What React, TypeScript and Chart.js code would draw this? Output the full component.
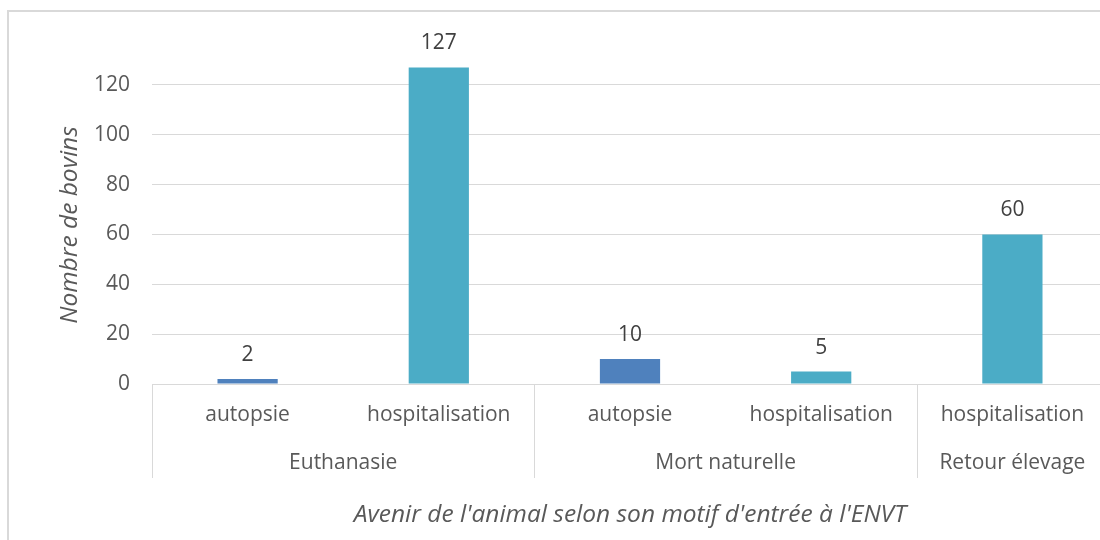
import { useEffect, useRef } from 'react';
import { Chart, registerables } from 'chart.js';

Chart.register(...registerables);

// ---- Data ----
const groups = ['Euthanasie', 'Euthanasie', 'Mort naturelle', 'Mort naturelle', 'Retour élevage'];
const subCategories = ['autopsie', 'hospitalisation', 'autopsie', 'hospitalisation', 'hospitalisation'];
const values = [2, 127, 10, 5, 60];
const yMax = 140;
const yStep = 20;
const yTitle = 'Nombre de bovins';
const xTitle = "Avenir de l'animal selon son motif d'entrée à l'ENVT";

// ---- Styles ----
const FONT = '"Open Sans"';
const FS = 21;
const TFS = 24.5;
const TEXT = '#595959';
const LABEL = '#404040';
const GRID = '#d9d9d9';
const colorFor = (sub: string) => (sub === 'autopsie' ? '#4f81bd' : '#4bacc6');

const decor = {
  id: 'excelDecor',
  beforeDraw(chart: any) {
    const { ctx } = chart;
    ctx.save();
    ctx.strokeStyle = GRID;
    ctx.lineWidth = 2;
    ctx.strokeRect(8, 11, 2000, 2000);
    ctx.restore();
  },
  afterDatasetsDraw(chart: any) {
    const { ctx, chartArea } = chart;
    const xs = chart.scales.x;
    const meta = chart.getDatasetMeta(0);
    ctx.save();
    // data labels
    ctx.font = `${FS}px ${FONT}`;
    ctx.fillStyle = LABEL;
    ctx.textAlign = 'center';
    ctx.textBaseline = 'middle';
    meta.data.forEach((bar: any, i: number) => {
      ctx.fillText(String(values[i]), bar.x, bar.y - 24);
    });
    // sub-category labels
    ctx.fillStyle = TEXT;
    subCategories.forEach((s, i) => {
      ctx.fillText(s, xs.getPixelForValue(i), chartArea.bottom + 31);
    });
    // separators and group labels
    const bottom = chartArea.bottom;
    const sepBottom = bottom + 94;
    ctx.strokeStyle = GRID;
    ctx.lineWidth = 1;
    const seps: number[] = [chartArea.left];
    let start = 0;
    for (let i = 1; i <= groups.length; i++) {
      if (i === groups.length || groups[i] !== groups[start]) {
        const cx = (xs.getPixelForValue(start) + xs.getPixelForValue(i - 1)) / 2;
        ctx.fillText(groups[start], cx, bottom + 79);
        if (i < groups.length) {
          seps.push((xs.getPixelForValue(i - 1) + xs.getPixelForValue(i)) / 2);
        }
        start = i;
      }
    }
    seps.push(chartArea.right);
    seps.forEach((x) => {
      const px = Math.round(x) + 0.5;
      ctx.beginPath();
      ctx.moveTo(px, bottom);
      ctx.lineTo(px, sepBottom);
      ctx.stroke();
    });
    // axis titles
    ctx.font = `italic ${TFS}px ${FONT}`;
    ctx.fillText(xTitle, (chartArea.left + chartArea.right) / 2, bottom + 131);
    ctx.translate(70, 225);
    ctx.rotate(-Math.PI / 2);
    ctx.fillText(yTitle, 0, 0);
    ctx.restore();
  },
};

export default function App() {
  const ref = useRef<HTMLCanvasElement>(null);
  useEffect(() => {
    const chart = new Chart(ref.current as HTMLCanvasElement, {
      type: 'bar',
      data: {
        labels: subCategories.map((s, i) => `${groups[i]} ${s}`),
        datasets: [
          {
            data: values,
            backgroundColor: subCategories.map(colorFor),
            barPercentage: 0.315,
            categoryPercentage: 1,
          },
        ],
      },
      options: {
        responsive: false,
        animation: false,
        layout: { padding: { left: 0, right: 12, top: 35, bottom: 156 } },
        plugins: { legend: { display: false }, tooltip: { enabled: false } },
        scales: {
          x: { display: false },
          y: {
            min: 0,
            max: yMax,
            afterFit: (s: any) => {
              s.width = 152;
            },
            border: { display: false },
            grid: {
              drawTicks: false,
              color: (c: any) => (c.tick && c.tick.value === yMax ? 'rgba(0,0,0,0)' : GRID),
              lineWidth: 1,
            },
            ticks: {
              stepSize: yStep,
              padding: 22,
              color: TEXT,
              font: { family: FONT, size: FS },
              callback: (v: any) => (v === yMax ? '' : v),
            },
          },
        },
      },
      plugins: [decor],
    });
    return () => chart.destroy();
  }, []);
  return (
    <div style={{ position: 'fixed', left: 0, top: 0, width: 1120, height: 540, background: '#fff' }}>
      <canvas ref={ref} width={1120} height={540} style={{ display: 'block', width: 1120, height: 540 }} />
    </div>
  );
}
